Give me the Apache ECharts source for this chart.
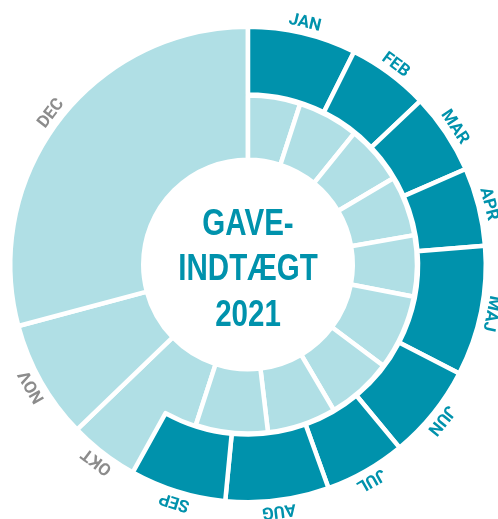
<!DOCTYPE html>
<html>
<head>
<meta charset="utf-8">
<script src="https://cdn.jsdelivr.net/npm/echarts@6/dist/echarts.min.js"></script>
<style>
  html, body { margin: 0; padding: 0; background: #fff; }
  #chart { width: 498px; height: 519px; }
</style>
</head>
<body>
<div id="chart"></div>
<script>
const months = ['JAN', 'FEB', 'MAR', 'APR', 'MAJ', 'JUN', 'JUL', 'AUG', 'SEP', 'OKT', 'NOV', 'DEC']
// ydre ring: jan-sep mørk, okt-dec lys (andel af 360)
const outerValues = [26.5, 20, 19.8, 19.2, 31.8, 23.1, 19.8, 25.3, 23.5, 17, 29, 105]
// indre ring: jan-sep lys
const innerValues = [18, 21, 20.3, 20.7, 21, 25.8, 22.7, 23.7, 24.8]
const titleText = 'GAVE-\nINDTÆGT\n2021'

const DARK = '#0092ac'
const LIGHT = '#b0dfe5'
const GREY = '#8c8c8c'

const sum = (arr) => arr.reduce((a, b) => a + b, 0)
const done = innerValues.length
const total = sum(outerValues)
const sumInner = sum(innerValues)
const sumOuterDone = sum(outerValues.slice(0, done))

const hidden = { color: 'transparent', borderWidth: 0 }
const border = { borderColor: '#fff', borderWidth: 4.5 }

// okt-dec fylder hele ringen
const fullData = [{ value: sumInner, itemStyle: hidden }]
months.slice(done).forEach((m, i) => {
  let v = outerValues[done + i]
  if (i === 0) v += sumOuterDone - sumInner
  fullData.push({ name: m, value: v, itemStyle: { color: LIGHT } })
})

const outerData = months.slice(0, done).map((m, i) => ({ name: m, value: outerValues[i], itemStyle: { color: DARK } }))
outerData.push({ value: total - sumOuterDone, itemStyle: hidden })

const innerData = months.slice(0, done).map((m, i) => ({ name: m, value: innerValues[i], itemStyle: { color: LIGHT } }))
innerData.push({ value: total - sumInner, itemStyle: hidden })

// labels rundt om kanten
let acc = 0
const labelData = months.map((m, i) => {
  const mid = ((acc + outerValues[i] / 2) / total) * 360
  acc += outerValues[i]
  return {
    name: m,
    value: outerValues[i],
    label: { rotate: -mid, color: i < done ? DARK : GREY },
  }
})

const base = {
  type: 'pie',
  center: [248, 264.5],
  startAngle: 90,
  clockwise: true,
  silent: true,
  avoidLabelOverlap: false,
  label: { show: false },
  labelLine: { show: false },
  itemStyle: border,
}

var myChart = echarts.init(document.getElementById('chart'))
var option = {
  animation: false,
  graphic: [
    {
      type: 'text',
      x: 248,
      y: 202,
      scaleX: 0.82,
      style: {
        text: titleText,
        x: 0,
        y: 0,
        align: 'center',
        textAlign: 'center',
        verticalAlign: 'top',
        fill: DARK,
        font: 'bold 36px "Liberation Sans", Arial, sans-serif',
        lineHeight: 45.5,
      },
    },
  ],
  series: [
    Object.assign({}, base, { radius: [104.75, 237.75], data: fullData }),
    Object.assign({}, base, { radius: [170, 237.75], data: outerData }),
    Object.assign({}, base, { radius: [104.75, 169], data: innerData }),
    Object.assign({}, base, {
      radius: [236, 254],
      data: labelData,
      itemStyle: { color: 'transparent', borderWidth: 0 },
      label: {
        show: true,
        position: 'inside',
        formatter: '{b}',
        fontFamily: 'Roboto, "Liberation Sans", sans-serif',
        fontWeight: 'bold',
        fontSize: 17,
      },
    }),
  ],
}
option && myChart.setOption(option)
</script>
</body>
</html>
